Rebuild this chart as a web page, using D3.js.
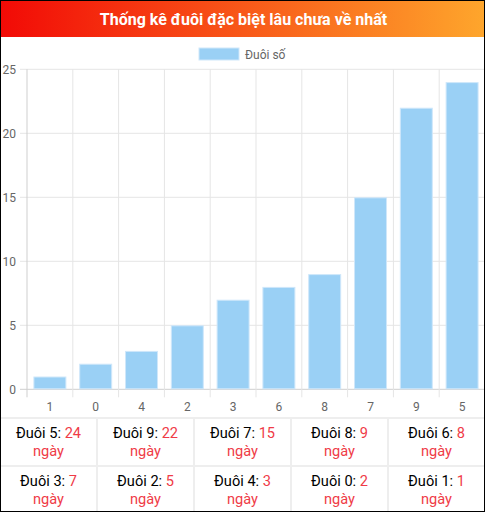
<!DOCTYPE html>
<html>
<head>
<meta charset="utf-8">
<script src="https://cdn.jsdelivr.net/npm/d3@7"></script>
<style>
  body { margin: 0; background: #fff; font-family: Roboto, "Noto Sans", sans-serif; }
  #wrap { position: relative; width: 485px; height: 512px; box-sizing: border-box; border: 1px solid #000; overflow: hidden; }
  svg { position: absolute; left: -1px; top: -1px; }
</style>
</head>
<body>
<div id="wrap"></div>
<script>
// dữ liệu
const categories = ["1", "0", "4", "2", "3", "6", "8", "7", "9", "5"];
const values = [1, 2, 3, 5, 7, 8, 9, 15, 22, 24];
const yTicks = [0, 5, 10, 15, 20, 25];
const titleText = "Thống kê đuôi đặc biệt lâu chưa về nhất";
const legendText = "Đuôi số";

const W = 485, H = 512;
const margin = { top: 69.3, bottom: 389.3, left: 27, right: 485 };
const red = "#ef3b47";

const svg = d3.select("#wrap").append("svg")
  .attr("width", W).attr("height", H);

// tiêu đề có nền chuyển màu
const grad = svg.append("defs").append("linearGradient")
  .attr("id", "hd").attr("x1", "0%").attr("x2", "100%");
grad.append("stop").attr("offset", "0%").attr("stop-color", "#f20a06");
grad.append("stop").attr("offset", "100%").attr("stop-color", "#fea62c");
svg.append("rect").attr("x", 0).attr("y", 0).attr("width", W).attr("height", 37)
  .attr("fill", "url(#hd)");
svg.append("text").attr("x", W / 2 + 1).attr("y", 24.5)
  .attr("text-anchor", "middle").attr("fill", "#fff")
  .style("font-size", "16px").style("font-weight", "bold")
  .text(titleText);

// chú thích
svg.append("rect").attr("x", 199).attr("y", 48).attr("width", 40).attr("height", 12)
  .attr("fill", "#9ad0f5").attr("stroke", "#cfe7fa");
svg.append("text").attr("x", 245).attr("y", 58.5)
  .attr("fill", "#666").style("font-size", "12px").text(legendText);

// thang đo
const x = d3.scaleBand().domain(categories).range([margin.left, margin.right]);
const y = d3.scaleLinear().domain([0, 25]).range([margin.bottom, margin.top]);

// lưới ngang
svg.append("g").selectAll("line").data(yTicks).enter().append("line")
  .attr("x1", 20).attr("x2", W)
  .attr("y1", d => y(d)).attr("y2", d => y(d))
  .attr("stroke", d => d === 0 ? "#cfcfcf" : "#e5e5e5");

// lưới dọc
const edges = categories.map(c => x(c)).concat([margin.right]);
svg.append("g").selectAll("line").data(edges).enter().append("line")
  .attr("x1", d => d).attr("x2", d => d)
  .attr("y1", margin.top).attr("y2", margin.bottom + 8)
  .attr("stroke", (d, i) => i === 0 ? "#cfcfcf" : "#e5e5e5");

// nhãn trục
svg.append("g").selectAll("text").data(yTicks).enter().append("text")
  .attr("x", 16).attr("y", d => y(d) + 4.5)
  .attr("text-anchor", "end").attr("fill", "#666").style("font-size", "12px")
  .text(d => d);
svg.append("g").selectAll("text").data(categories).enter().append("text")
  .attr("x", d => x(d) + x.bandwidth() / 2).attr("y", 410.5)
  .attr("text-anchor", "middle").attr("fill", "#666").style("font-size", "12px")
  .text(d => d);

// cột
const bw = x.bandwidth() * 0.72;
svg.append("g").selectAll("rect").data(categories).enter().append("rect")
  .attr("x", (d, i) => x(d) + (x.bandwidth() - bw) / 2 + 0.5)
  .attr("y", (d, i) => y(values[i]) + 0.5)
  .attr("width", bw - 1)
  .attr("height", (d, i) => y(0) - y(values[i]) - 1)
  .attr("fill", "#9ad0f5").attr("stroke", "#cfe7fa");

// bảng bên dưới, sắp giảm dần
const rows = categories.map((c, i) => ({ c, v: values[i] }))
  .sort((a, b) => b.v - a.v);
const colW = W / 5, tTop = 418, rowH = 48;
const tb = svg.append("g");
[tTop, tTop + rowH].forEach(yy => {
  tb.append("line").attr("x1", 0).attr("x2", W).attr("y1", yy).attr("y2", yy)
    .attr("stroke", "#eee").attr("stroke-width", 2);
});
[1, 2, 3, 4].forEach(k => {
  tb.append("line").attr("x1", k * colW).attr("x2", k * colW)
    .attr("y1", tTop).attr("y2", H).attr("stroke", "#eee").attr("stroke-width", 2);
});
const cell = tb.selectAll("g.cell").data(rows).enter().append("g")
  .attr("transform", (d, i) => `translate(${(i % 5) * colW + colW / 2},${tTop + Math.floor(i / 5) * rowH})`);
const line1 = cell.append("text").attr("y", 19.5).attr("text-anchor", "middle")
  .style("font-size", "14.6px");
line1.append("tspan").attr("fill", "#000").text(d => "Đuôi " + d.c + ": ");
line1.append("tspan").attr("fill", red).text(d => d.v);
cell.append("text").attr("y", 37.8).attr("text-anchor", "middle")
  .style("font-size", "14.6px").attr("fill", red).text("ngày");
</script>
</body>
</html>
